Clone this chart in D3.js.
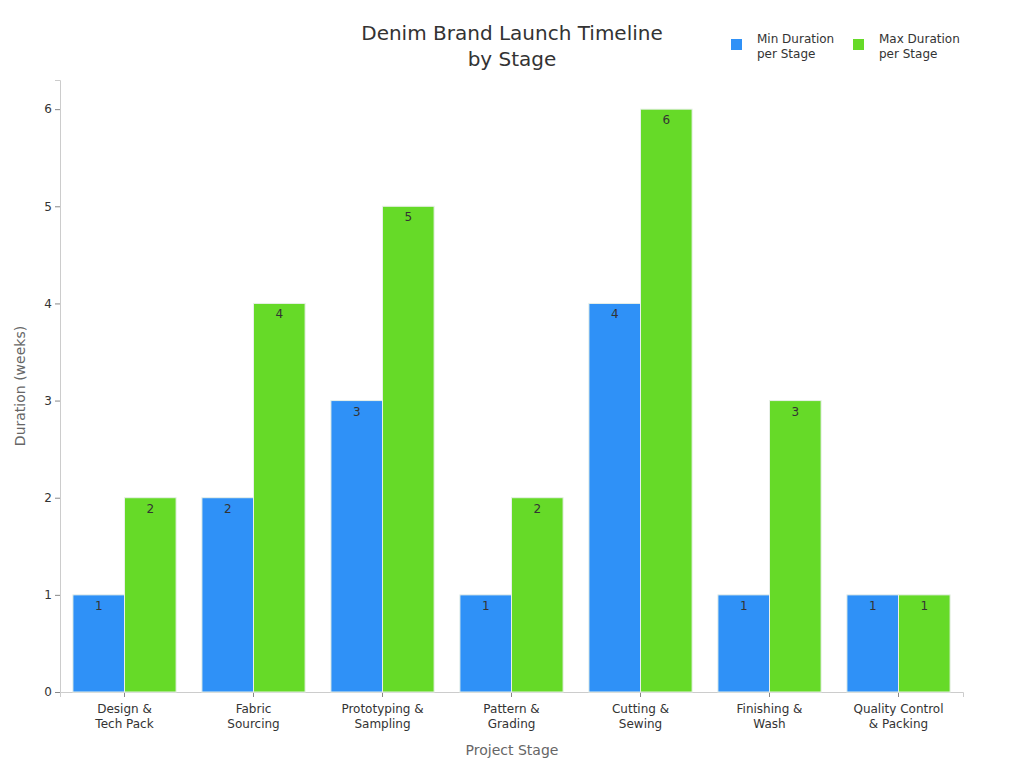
<!DOCTYPE html>
<html><head><meta charset="utf-8">
<script src="https://cdn.jsdelivr.net/npm/d3@7"></script>
<style>body{margin:0;background:#fff;font-family:"DejaVu Sans",sans-serif}</style>
</head><body><svg id="c" width="1024" height="768"></svg>
<script>
const categories = [["Design &","Tech Pack"],["Fabric","Sourcing"],["Prototyping &","Sampling"],["Pattern &","Grading"],["Cutting &","Sewing"],["Finishing &","Wash"],["Quality Control","& Packing"]];
const minDuration = [1,2,3,1,4,1,1];
const maxDuration = [2,4,5,2,6,3,1];
const seriesNames = [["Min Duration","per Stage"],["Max Duration","per Stage"]];
const colors = ["#2f91f7","#66da28"];
const yTicks = [0,1,2,3,4,5,6];

const svg = d3.select("#c");
const m = {l:60, r:61, t:80, b:76};
const W = 1024, H = 768;
const x0 = d3.scaleBand().domain(d3.range(categories.length)).range([m.l, W-m.r]);
const xs = d3.scaleBand().domain([0,1]).range([0, x0.bandwidth()*0.8]);
const y = d3.scaleLinear().domain([0,6.3]).range([H-m.b, m.t]);

// axes
const yAxis = svg.append("g").attr("transform",`translate(${m.l},0)`).call(d3.axisLeft(y).tickValues(yTicks).tickFormat(d3.format("d")).tickSize(5).tickPadding(3));
yAxis.select(".domain").attr("stroke","#ccc");
yAxis.selectAll(".tick line").attr("stroke","#888");
yAxis.selectAll("text").attr("fill","#333").style("font-size","12px").style("font-family","DejaVu Sans");

const xAxis = svg.append("g").attr("transform",`translate(0,${y(0)})`).call(d3.axisBottom(x0).tickSize(5).tickFormat(""));
xAxis.select(".domain").attr("stroke","#ccc");
xAxis.selectAll(".tick line").attr("stroke","#888");
xAxis.selectAll(".tick").each(function(d){
  const t = d3.select(this).append("text").attr("fill","#333").attr("text-anchor","middle")
    .style("font-size","12px").style("font-family","DejaVu Sans");
  categories[d].forEach((s,i)=>t.append("tspan").attr("x",0).attr("y",21+i*15).text(s));
});

const series = [minDuration, maxDuration];
series.forEach((vals, si)=>{
  const g = svg.append("g");
  vals.forEach((v,i)=>{
    const bx = x0(i) + x0.bandwidth()*0.1 + xs(si);
    g.append("rect").attr("x",bx).attr("y",y(v)).attr("width",xs.bandwidth()).attr("height",y(0)-y(v))
      .attr("fill",colors[si]).attr("stroke","#e8f0e8").attr("stroke-width",1);
    g.append("text").attr("x",bx+xs.bandwidth()/2).attr("y",y(v)+15).attr("text-anchor","middle")
      .attr("fill","#333").style("font-size","12px").text(v);
  });
});

// title
const title = svg.append("text").attr("x",512).attr("text-anchor","middle").attr("fill","#333").style("font-size","20px");
title.append("tspan").attr("x",512).attr("y",40).text("Denim Brand Launch Timeline");
title.append("tspan").attr("x",512).attr("y",66).text("by Stage");

// axis titles
svg.append("text").attr("transform",`translate(25,${(m.t+y(0))/2}) rotate(-90)`).attr("text-anchor","middle")
  .attr("fill","#666").style("font-size","14px").text("Duration (weeks)");
svg.append("text").attr("x",512).attr("y",755).attr("text-anchor","middle").attr("fill","#666").style("font-size","14px").text("Project Stage");

// legend
const legX = [731, 853];
seriesNames.forEach((n,i)=>{
  svg.append("rect").attr("x",legX[i]).attr("y",39).attr("width",11).attr("height",11).attr("fill",colors[i]);
  const t = svg.append("text").attr("fill","#333").style("font-size","12px");
  n.forEach((s,j)=>t.append("tspan").attr("x",legX[i]+26).attr("y",43+j*15).text(s));
});
</script></body></html>
